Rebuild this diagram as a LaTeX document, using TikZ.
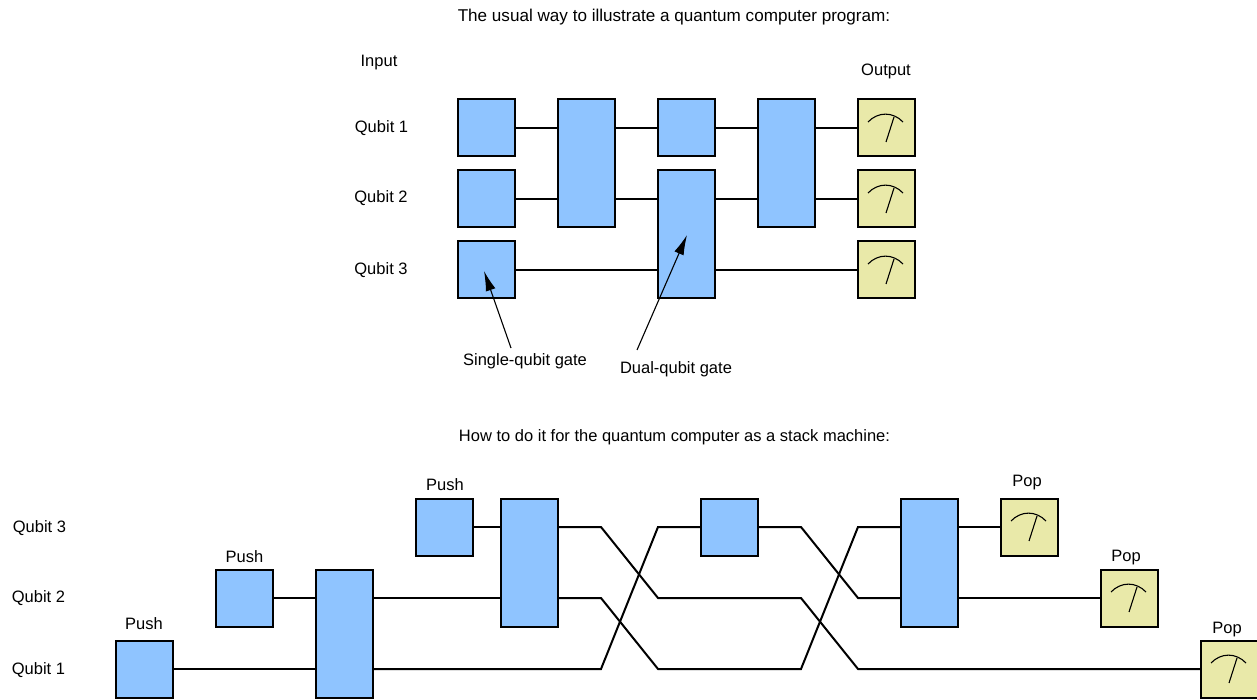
\documentclass[tikz,border=0pt]{standalone}
\usepackage{fontspec}
\setmainfont{Liberation Sans}
\usetikzlibrary{arrows.meta,calc}
\definecolor{gateblue}{HTML}{8FC4FF}
\definecolor{meteryellow}{HTML}{E9E9A9}
\tikzset{
  x=1pt,y=-1pt,
  box/.style={draw=black,line width=2pt,anchor=north west,inner sep=0pt,outer sep=0pt,minimum width=57pt},
  gate/.style={box,fill=gateblue,minimum height=#1},
  gate/.default=57pt,
  metr/.style={box,fill=meteryellow,minimum height=57pt},
  wire/.style={draw=black,line width=2pt,line join=miter},
  dial/.style={draw=black,line width=1.1pt},
  pointer/.style={draw=black,line width=1.1pt,-{Latex[length=20pt,width=10pt]}},
  lab/.style={font=\fontsize{16.5pt}{20pt}\selectfont,inner sep=0pt,text=black},
  biglab/.style={font=\fontsize{17.1pt}{20pt}\selectfont,inner sep=0pt,text=black},
}
\newcommand{\meter}[2]{%
  \node[metr] (#1) at (#2) {};
  \draw[dial] ($(#1.north west)+(10,22.5)$) .. controls ($(#1.north west)+(20,12)$) and ($(#1.north west)+(35,12)$) .. ($(#1.north west)+(45,22.5)$);
  \draw[dial] ($(#1.north west)+(28,42.5)$) -- ($(#1.north west)+(36,17.5)$);
}
\begin{document}
\begin{tikzpicture}
\useasboundingbox (0,0) rectangle (1257,700);
% top labels
\node[biglab] (t1) at (674,17.5) {The usual way to illustrate a quantum computer program:};
\node[lab] (inp) at (379,62.5) {Input};
\node[lab] (outp) at (886,71.5) {Output};
\node[lab] (q1) at (381.5,128.5) {Qubit 1};
\node[lab] (q2) at (381,198.5) {Qubit 2};
\node[lab] (q3) at (381,270.5) {Qubit 3};
\node[lab] (sq) at (525,361.5) {Single-qubit gate};
\node[lab] (dq) at (676,369.5) {Dual-qubit gate};
% top gates
\node[gate] (a1) at (458,99.5) {};
\node[gate] (a2) at (458,170.5) {};
\node[gate] (a3) at (458,241.5) {};
\node[gate=128pt] (b) at (558,99.5) {};
\node[gate] (c1) at (658,99.5) {};
\node[gate=128pt] (c2) at (658,170.5) {};
\node[gate=128pt] (d) at (758,99.5) {};
\meter{m1}{858,99.5}
\meter{m2}{858,170.5}
\meter{m3}{858,241.5}
% top wires
\draw[wire] (a1.east) -- (b.west |- a1.east);
\draw[wire] (a2.east) -- (b.west |- a2.east);
\draw[wire] (a3.east) -- (c2.west |- a3.east);
\draw[wire] (b.east |- a1.east) -- (c1.west);
\draw[wire] (b.east |- a2.east) -- (c2.west |- a2.east);
\draw[wire] (c1.east) -- (d.west |- c1.east);
\draw[wire] (c2.east |- a2.east) -- (d.west |- a2.east);
\draw[wire] (d.east |- m1.west) -- (m1.west);
\draw[wire] (d.east |- m2.west) -- (m2.west);
\draw[wire] (c2.east |- m3.west) -- (m3.west);
% pointers
\coordinate (sqs) at (511,348);
\coordinate (sqe) at (484,271);
\coordinate (dqs) at (637,350);
\coordinate (dqe) at (687,235);
\draw[pointer] (sqs) -- (sqe);
\draw[pointer] (dqs) -- (dqe);
% bottom labels
\node[lab] (t2) at (674.5,437.5) {How to do it for the quantum computer as a stack machine:};
\node[lab] (p1) at (144,623.5) {Push};
\node[lab] (p2) at (244.5,556.5) {Push};
\node[lab] (p3) at (445,485) {Push};
\node[lab] (o1) at (1027,482.5) {Pop};
\node[lab] (o2) at (1126,557.5) {Pop};
\node[lab] (o3) at (1227,629.5) {Pop};
\node[lab] (r3) at (39.5,528.5) {Qubit 3};
\node[lab] (r2) at (38.5,598.5) {Qubit 2};
\node[lab] (r1) at (38.5,670.5) {Qubit 1};
% bottom gates
\node[gate] (g1) at (116,640.5) {};
\node[gate] (g2) at (216,569.5) {};
\node[gate] (g3) at (416,498.5) {};
\node[gate=128pt] (h1) at (316,569.5) {};
\node[gate=128pt] (h2) at (501,498.5) {};
\node[gate] (h3) at (701,498.5) {};
\node[gate=128pt] (h4) at (901,498.5) {};
\meter{n1}{1001,498.5}
\meter{n2}{1101,569.5}
\meter{n3}{1201,640.5}
% bottom wires
\draw[wire] (g1.east) -- (h1.west |- g1.east);
\draw[wire] (g2.east) -- (h1.west |- g2.east);
\draw[wire] (g3.east) -- (h2.west |- g3.east);
\draw[wire] (h1.east |- g2.east) -- (h2.west |- g2.east);
\coordinate (xa) at (601,527);
\coordinate (xb) at (601,598);
\coordinate (xc) at (601,669);
\coordinate (ya) at (658,527);
\coordinate (yb) at (658,598);
\coordinate (yc) at (658,669);
\coordinate (ua) at (801,527);
\coordinate (ub) at (801,598);
\coordinate (uc) at (801,669);
\coordinate (va) at (858,527);
\coordinate (vb) at (858,598);
\coordinate (vc) at (858,669);
\draw[wire] (h2.east |- g3.east) -- (xa) -- (yb) -- (ub) -- (vc) -- (n3.west);
\draw[wire] (h2.east |- g2.east) -- (xb) -- (yc) -- (uc) -- (va) -- (h4.west |- va);
\draw[wire] (h1.east |- g1.east) -- (xc) -- (ya) -- (h3.west);
\draw[wire] (h3.east) -- (ua) -- (vb) -- (h4.west |- vb);
\draw[wire] (h4.east |- n1.west) -- (n1.west);
\draw[wire] (h4.east |- n2.west) -- (n2.west);
\end{tikzpicture}
\end{document}
